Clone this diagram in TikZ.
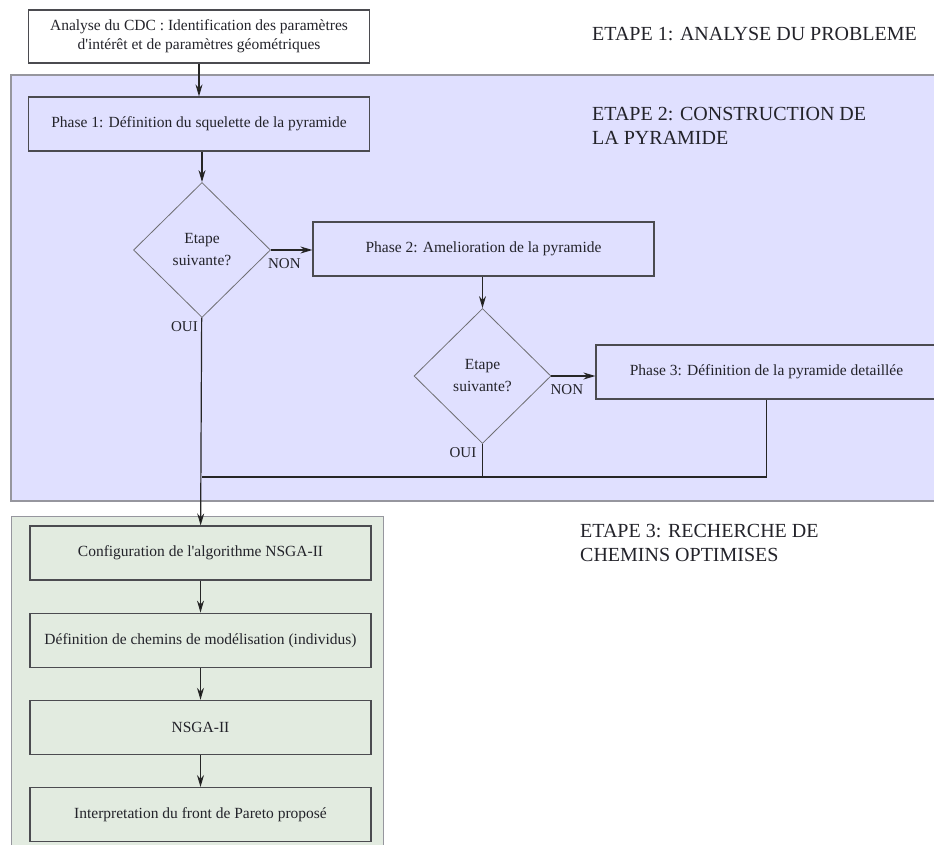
\documentclass[tikz,border=0pt]{standalone}
\usepackage{fontspec}
\setmainfont{Liberation Serif}
\usetikzlibrary{positioning,arrows.meta,shapes.geometric}
\definecolor{etapeblue}{RGB}{224,224,255}
\definecolor{etapegreen}{RGB}{226,235,224}
\definecolor{regionline}{RGB}{150,150,158}
\definecolor{boxline}{RGB}{75,75,80}
\definecolor{txtgray}{RGB}{35,35,42}
\tikzset{
  >={Stealth[length=12pt,width=7pt]},
  x=1pt, y=-1pt,
  phase/.style={draw=boxline, line width=1.2pt, minimum width=341pt,
    minimum height=54pt, inner sep=0pt, align=center, text=txtgray,
    font=\fontsize{15.5}{19}\selectfont},
  decision/.style={diamond, draw=boxline!80, line width=0.8pt,
    minimum width=137pt, minimum height=135pt, inner sep=0pt,
    align=center, text=txtgray, font=\fontsize{15.5}{22}\selectfont},
  etape/.style={inner sep=0pt, align=left, text=txtgray,
    font=\fontsize{20}{24}\selectfont},
  answer/.style={inner sep=0pt, text=txtgray, font=\fontsize{15}{15}\selectfont},
  flow/.style={draw=black!85, line width=1.2pt},
}

\begin{document}
\begin{tikzpicture}
  \useasboundingbox (0,0) rectangle (934,844);

  % Regions
  \filldraw[fill=etapeblue, draw=regionline, line width=1.2pt] (11,75) rectangle (945,501);
  \filldraw[fill=etapegreen, draw=regionline, line width=1pt] (11,516) rectangle (383,855);

  % Steps
  \node[etape, anchor=north west] (e1) at (592,27) {ETAPE 1: ANALYSE DU PROBLEME};
  \node[etape, anchor=north west] (e2) at (592,107) {ETAPE 2: CONSTRUCTION DE\\LA PYRAMIDE};
  \node[etape, anchor=north west] (e3) at (580,524) {ETAPE 3: RECHERCHE DE\\CHEMINS OPTIMISES};

  % Boxes
  \node[phase, minimum height=53pt] (cdc) at (199,36.5) {Analyse du CDC : Identification des paramètres\\d\textquotesingle intérêt et de paramètres géométriques};
  \node[phase] (ph1) at (199,124) {Phase 1: Définition du squelette de la pyramide};
  \node[decision] (dec1) at (202,250) {Etape\\suivante?};
  \node[phase] (ph2) at (483.5,249) {Phase 2: Amelioration de la pyramide};
  \node[decision] (dec2) at (482.5,376) {Etape\\suivante?};
  \node[phase] (ph3) at (766.5,372) {Phase 3: Définition de la pyramide detaillée};
  \coordinate (join) at (202,477);

  \node[phase] (cfg) at (200.5,553) {Configuration de l\textquotesingle algorithme NSGA-II};
  \node[phase, below=32pt of cfg] (chem) {Définition de chemins de modélisation (individus)};
  \node[phase, below=32pt of chem] (nsga) {NSGA-II};
  \node[phase, below=32pt of nsga] (pareto) {Interpretation du front de Pareto proposé};

  % Answers
  \node[answer, below right=8pt and -3pt of dec1.east] (non1) {NON};
  \node[answer, below left=3pt and 4pt of dec1.south] (oui1) {OUI};
  \node[answer, below right=8pt and -1pt of dec2.east] (non2) {NON};
  \node[answer, below left=3pt and 6pt of dec2.south] (oui2) {OUI};

  % Links
  \path[flow]
    (cdc) edge[->] (ph1)
    (ph1.south -| dec1) edge[->] (dec1)
    (dec1.east) edge[->] (dec1.east -| ph2.west)
    (ph2.south -| dec2) edge[->] (dec2)
    (dec2.east) edge[->] (dec2.east -| ph3.west)
    (dec1) edge[->] (cfg)
    (cfg) edge[->] (cfg |- chem.north)
    (chem) edge[->] (chem |- nsga.north)
    (nsga) edge[->] (nsga |- pareto.north);
  \draw[flow]
    (dec2.south) -- (dec2.south |- join)
    (ph3.south) |- (join);
\end{tikzpicture}
\end{document}
